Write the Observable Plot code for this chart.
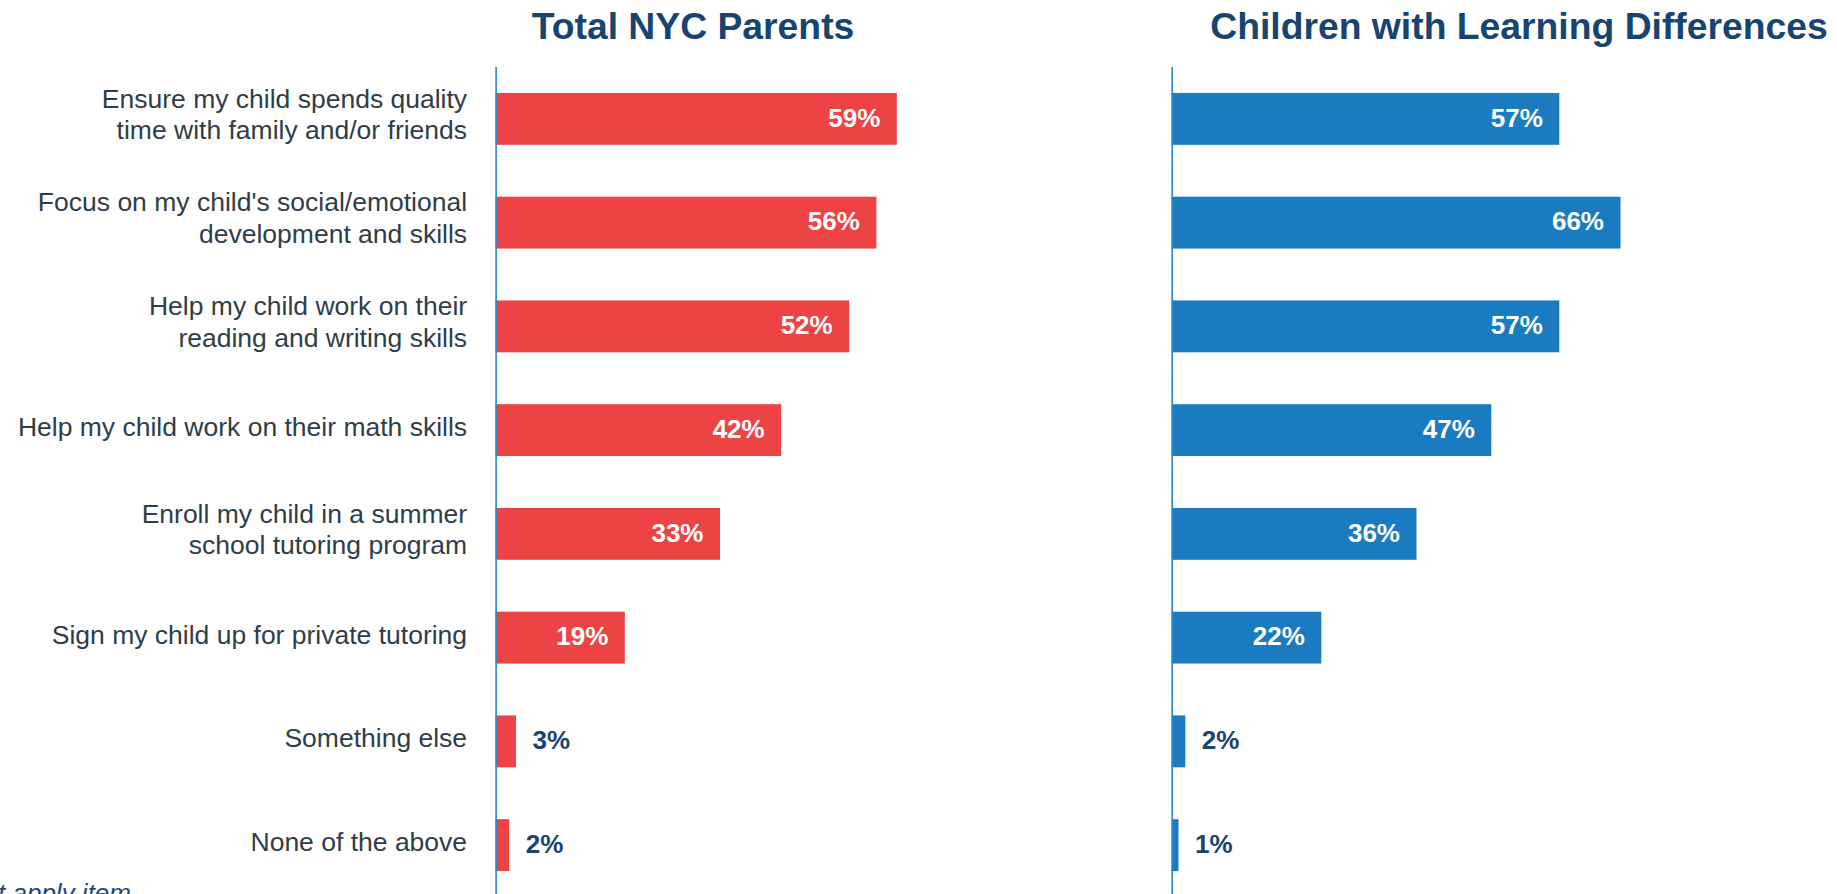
<!DOCTYPE html>
<html>
<head>
<meta charset="utf-8">
<script src="https://cdn.jsdelivr.net/npm/d3@7"></script>
<script src="https://cdn.jsdelivr.net/npm/@observablehq/plot@0.6"></script>
<style>
  html, body { margin: 0; padding: 0; background: #fff; }
  body { position: relative; width: 1837px; height: 894px; overflow: hidden; font-family: "Liberation Sans", Arial, sans-serif; }
  .title { position: absolute; top: 8px; transform: translateX(-50%); white-space: nowrap; font-size: 37.3px; line-height: 37px; font-weight: bold; color: #174470; }
  .panel { position: absolute; top: 0; }
  .caption { position: absolute; top: 880px; white-space: nowrap; font-size: 26px; line-height: 26px; font-style: italic; color: #1f4a78; }
</style>
</head>
<body>
<script>
const categories = [
  "Ensure my child spends quality\ntime with family and/or friends",
  "Focus on my child's social/emotional\ndevelopment and skills",
  "Help my child work on their\nreading and writing skills",
  "Help my child work on their math skills",
  "Enroll my child in a summer\nschool tutoring program",
  "Sign my child up for private tutoring",
  "Something else",
  "None of the above"
];
const totalNYCParents = [59, 56, 52, 42, 33, 19, 3, 2];
const learningDifferences = [57, 66, 57, 47, 36, 22, 2, 1];
const panelTitles = ["Total NYC Parents", "Children with Learning Differences"];
const captionText = "*Select all that apply item";

const navy = "#174470";

function panel(values, color, showLabels, width, axisX) {
  const data = categories.map((c, i) => ({category: c, value: values[i]}));
  const marks = [
    Plot.barX(data, {x: "value", y: "category", fill: color}),
    Plot.ruleX([0], {stroke: "#2a86cc", strokeWidth: 1.6}),
    Plot.text(data.filter(d => d.value >= 10), {
      x: "value", y: "category", text: d => d.value + "%",
      dx: -17, dy: -1, textAnchor: "end", fill: "white", fontWeight: "bold", fontSize: 26
    }),
    Plot.text(data.filter(d => d.value < 10), {
      x: "value", y: "category", text: d => d.value + "%",
      dx: 16, dy: -1, textAnchor: "start", fill: navy, fontWeight: "bold", fontSize: 26
    })
  ];
  if (showLabels) {
    marks.push(Plot.text(data.filter(d => d.category.includes("\n")), {
      x: () => 0, y: "category", text: "category",
      dx: -29, dy: -6, textAnchor: "end", fill: "#2e3d48", fontSize: 26.5, lineHeight: 1.2
    }));
    marks.push(Plot.text(data.filter(d => !d.category.includes("\n")), {
      x: () => 0, y: "category", text: "category",
      dx: -29, dy: -3, textAnchor: "end", fill: "#2e3d48", fontSize: 26.5
    }));
  }
  return Plot.plot({
    width, height: 897,
    marginTop: 67, marginBottom: 0, marginLeft: 0, marginRight: 0,
    x: {domain: [0, 100], range: [axisX, axisX + 680], axis: null},
    y: {domain: categories, paddingInner: 0.5, paddingOuter: 0.25, round: false, axis: null},
    style: {fontFamily: "'Liberation Sans', Arial, sans-serif", background: "transparent", overflow: "visible"},
    marks
  });
}

const left = document.createElement("div");
left.className = "panel"; left.style.left = "0px";
left.appendChild(panel(totalNYCParents, "#ee4344", true, 1000, 495.6));
document.body.appendChild(left);

const right = document.createElement("div");
right.className = "panel"; right.style.left = "1000px";
right.appendChild(panel(learningDifferences, "#1a7bc0", false, 837, 171.7));
document.body.appendChild(right);

const t1 = document.createElement("div");
t1.className = "title"; t1.style.left = "693px"; t1.textContent = panelTitles[0];
document.body.appendChild(t1);
const t2 = document.createElement("div");
t2.className = "title"; t2.style.left = "1519px"; t2.textContent = panelTitles[1];
document.body.appendChild(t2);

const cap = document.createElement("div");
cap.className = "caption"; cap.style.right = (1837 - 131) + "px"; cap.textContent = captionText;
document.body.appendChild(cap);
</script>
</body>
</html>
